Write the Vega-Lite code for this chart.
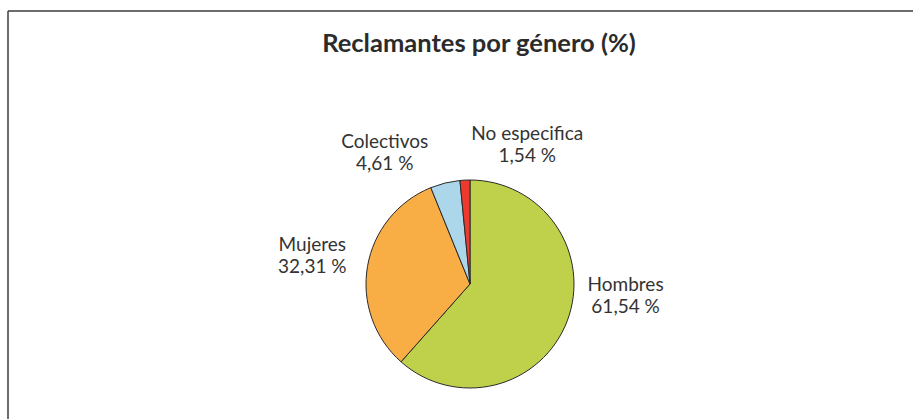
{
  "$schema": "https://vega.github.io/schema/vega-lite/v6.json",
  "width": 913,
  "height": 419,
  "autosize": {"type": "fit", "contains": "padding"},
  "padding": {"left": 7, "top": 10, "right": -2, "bottom": -2},
  "background": "white",
  "config": {
    "view": {"stroke": null},
    "font": "Lato"
  },
  "title": {
    "text": "Reclamantes por género (%)",
    "font": "Lato",
    "fontSize": 25.5,
    "fontWeight": "bold",
    "color": "#2b2b2b",
    "anchor": "middle",
    "frame": "group",
    "baseline": "alphabetic",
    "offset": -67,
    "dx": 18
  },
  "data": {
    "values": [
      {"name": "Hombres", "value": 61.54},
      {"name": "Mujeres", "value": 32.31},
      {"name": "Colectivos", "value": 4.61},
      {"name": "No especifica", "value": 1.54}
    ]
  },
  "transform": [
    {"calculate": "datum.name + '\\n' + replace(format(datum.value, '.2f'), '.', ',') + ' %'", "as": "lbl"}
  ],
  "encoding": {
    "theta": {"field": "value", "type": "quantitative", "stack": true},
    "order": {"field": "value", "sort": "descending"}
  },
  "layer": [
    {
      "mark": {
        "type": "arc",
        "outerRadius": 104,
        "stroke": "#2a2a2a",
        "strokeWidth": 1,
        "x": {"expr": "width/2 + 9"},
        "y": {"expr": "height/2 + 68.5"}
      },
      "encoding": {
        "color": {
          "field": "name",
          "type": "nominal",
          "scale": {
            "domain": ["Hombres", "Mujeres", "Colectivos", "No especifica"],
            "range": ["#bfd14a", "#f9ad45", "#acd7ea", "#ec3a2e"]
          },
          "legend": null
        }
      }
    },
    {
      "mark": {
        "type": "text",
        "radius": 160,
        "x": {"expr": "width/2 + 9"},
        "y": {"expr": "height/2 + 68.5"},
        "lineBreak": "\n",
        "lineHeight": 22,
        "fontSize": 19,
        "color": "#333333",
        "align": "center",
        "baseline": "middle",
        "dx": {"expr": "datum.name === 'Hombres' ? 6 : datum.name === 'Mujeres' ? 0 : datum.name === 'Colectivos' ? -47 : 65"},
        "dy": {"expr": "datum.name === 'Hombres' ? -56 : datum.name === 'Mujeres' ? -12 : datum.name === 'Colectivos' ? 13 : 10"}
      },
      "encoding": {
        "text": {"field": "lbl", "type": "nominal"}
      }
    },
    {
      "mark": {"type": "rule", "color": "#3c3c3c", "strokeWidth": 1.5},
      "data": {"values": [{}]},
      "encoding": {"y": {"value": 0}}
    },
    {
      "mark": {"type": "rule", "color": "#3c3c3c", "strokeWidth": 1.5},
      "data": {"values": [{}]},
      "encoding": {"x": {"value": 0}}
    }
  ]
}
